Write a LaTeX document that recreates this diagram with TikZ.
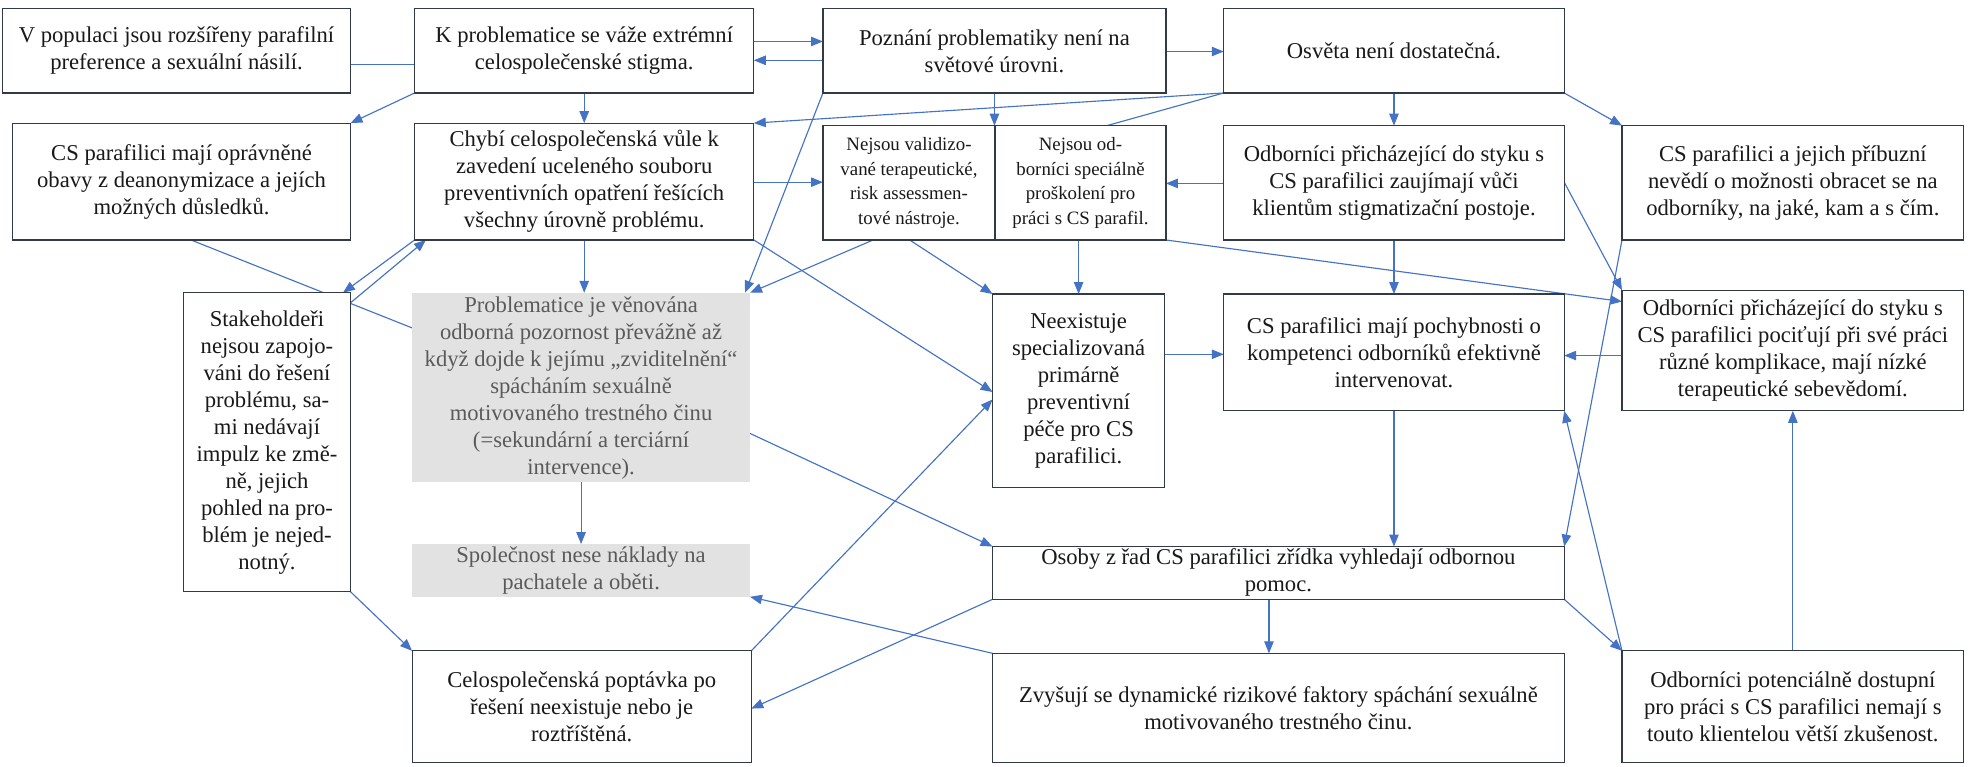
\documentclass[tikz,border=0pt]{standalone}
\usepackage{fontspec}
\setmainfont{Liberation Serif}
\usetikzlibrary{arrows.meta}
\definecolor{conn}{HTML}{4472C4}
\definecolor{boxline}{RGB}{50,58,70}
\definecolor{textc}{RGB}{25,25,25}
\definecolor{grayfill}{RGB}{226,226,226}
\definecolor{graytext}{RGB}{90,90,90}
\pgfdeclarelayer{bg}
\pgfsetlayers{bg,main}
\begin{document}
\begin{tikzpicture}[x=1pt,y=-1pt,
  box/.style={draw=boxline, line width=0.9pt, fill=white, inner sep=2pt, outer sep=0pt,
    align=center, text=textc, font=\fontsize{18}{21.5}\selectfont},
  gbox/.style={fill=grayfill, inner sep=2pt, outer sep=0pt, align=center, text=graytext,
    font=\fontsize{18}{21.5}\selectfont},
  smalltext/.style={font=\fontsize{15}{19.5}\selectfont},
  arr/.style={draw=conn, line width=0.9pt, -{Triangle[length=9.5pt,width=7.5pt]}},
  ln/.style={draw=conn, line width=0.9pt}]
\useasboundingbox (0,0) rectangle (1568,610);

% row 1
\node[box, minimum width=277pt, minimum height=67pt] (A) at (140.5,40.5)
  {V populaci jsou rozšířeny parafilní\\preference a sexuální násilí.};
\node[box, minimum width=270pt, minimum height=67pt] (B) at (465,40.5)
  {K problematice se váže extrémní\\celospolečenské stigma.};
\node[box, minimum width=273pt, minimum height=67pt] (E) at (791.5,40.5)
  {Poznání problematiky není na\\světové úrovni.};
\node[box, minimum width=271pt, minimum height=67pt] (F) at (1109.5,40.5)
  {Osvěta není dostatečná.};

% row 2
\node[box, minimum width=269pt, minimum height=93pt] (C) at (144.5,144.5)
  {CS parafilici mají oprávněné\\obavy z deanonymizace a jejích\\možných důsledků.};
\node[box, minimum width=270pt, minimum height=93pt] (D) at (465,144.5)
  {Chybí celospolečenská vůle k\\zavedení uceleného souboru\\preventivních opatření řešících\\všechny úrovně problému.};
\node[box, smalltext, minimum width=137pt, minimum height=91pt] (G1) at (723.5,145.5)
  {Nejsou validizo-\\vané terapeutické,\\risk assessmen-\\tové nástroje.};
\node[box, smalltext, minimum width=136pt, minimum height=91pt] (G2) at (860,145.5)
  {Nejsou od-\\borníci speciálně\\proškolení pro\\práci s CS parafil.};
\node[box, minimum width=271pt, minimum height=91pt] (H) at (1109.5,145.5)
  {Odborníci přicházející do styku s\\CS parafilici zaujímají vůči\\klientům stigmatizační postoje.};
\node[box, minimum width=272pt, minimum height=91pt] (I) at (1427,145.5)
  {CS parafilici a jejich příbuzní\\nevědí o možnosti obracet se na\\odborníky, na jaké, kam a s čím.};

% row 3
\node[box, minimum width=133pt, minimum height=238pt] (S) at (212.5,352)
  {Stakeholdeři\\nejsou zapojo-\\váni do řešení\\problému, sa-\\mi nedávají\\impulz ke změ-\\ně, jejich\\pohled na pro-\\blém je nejed-\\notný.};
\node[gbox, minimum width=269pt, minimum height=151pt] (P) at (462.5,308.5)
  {Problematice je věnována\\odborná pozornost převážně až\\když dojde k jejímu „zviditelnění“\\spácháním sexuálně\\motivovaného trestného činu\\(=sekundární a terciární\\intervence).};
\node[box, minimum width=137pt, minimum height=154pt] (N) at (858.5,311)
  {Neexistuje\\specializovaná\\primárně\\preventivní\\péče pro CS\\parafilici.};
\node[box, minimum width=271pt, minimum height=93pt] (K) at (1109.5,280.5)
  {CS parafilici mají pochybnosti o\\kompetenci odborníků efektivně\\intervenovat.};
\node[box, minimum width=272pt, minimum height=96pt] (L) at (1427,279)
  {Odborníci přicházející do styku s\\CS parafilici pociťují při své práci\\různé komplikace, mají nízké\\terapeutické sebevědomí.};

% row 4
\node[gbox, minimum width=269pt, minimum height=42pt] (Q) at (462.5,454)
  {Společnost nese náklady na\\pachatele a oběti.};
\node[box, minimum width=455pt, minimum height=42pt] (O) at (1017.5,456)
  {Osoby z řad CS parafilici zřídka vyhledají odbornou\\pomoc.};

% row 5
\node[box, minimum width=270pt, minimum height=89pt] (R) at (463,562.5)
  {Celospolečenská poptávka po\\řešení neexistuje nebo je\\roztříštěná.};
\node[box, minimum width=455pt, minimum height=87pt] (Z) at (1017.5,563.5)
  {Zvyšují se dynamické rizikové faktory spáchání sexuálně\\motivovaného trestného činu.};
\node[box, minimum width=272pt, minimum height=89pt] (T) at (1427,562.5)
  {Odborníci potenciálně dostupní\\pro práci s CS parafilici nemají s\\touto klientelou větší zkušenost.};

\begin{pgfonlayer}{bg}
\fill[white] (0,0) rectangle (1568,610);
\draw[ln]  (A.east |- 0,51) -- (B.west |- 0,51);
\draw[arr] (B.east |- 0,33) -- (E.west |- 0,33);
\draw[arr] (E.west |- 0,48) -- (B.east |- 0,48);
\draw[arr] (E.east |- 0,41) -- (F.west |- 0,41);
\draw[arr] (B.south) -- (B.south |- D.north);
\draw[arr] (B.south west) -- (C.north east);
\draw[arr] (E.south) -- (E.south |- G1.north);
\draw[arr] (F.south west) -- (D.north east);
\draw[ln]  (F.south west) -- (G2.north -| 881,0);
\draw[arr] (F.south) -- (F.south |- H.north);
\draw[arr] (F.south east) -- (I.north west);
\draw[ln]  (C.south -| 152,0) -- (P.west |- 0,261);
\draw[arr] (D.south west) -- (S.north -| 273,0);
\draw[arr] (S.east |- 0,241) -- (D.south -| 339,0);
\draw[arr] (D.south) -- (D.south |- P.north);
\draw[arr] (D.east |- 0,145) -- (G1.west |- 0,145);
\draw[arr] (H.west |- 0,146) -- (G2.east |- 0,146);
\draw[arr] (D.south east) -- (N.west |- 0,312);
\draw[arr] (R.north east) -- (N.west |- 0,318);
\draw[arr] (E.south west) -- (P.north -| 593,0);
\draw[arr] (G1.south -| 695,0) -- (P.north east);
\draw[arr] (G1.south -| 724,0) -- (N.north west);
\draw[arr] (N.north |- G2.south) -- (N.north);
\draw[arr] (G2.south east) -- (L.west |- 0,240);
\draw[arr] (H.east |- 0,145) -- (L.north west);
\draw[arr] (H.south) -- (K.north);
\draw[arr] (I.south west) -- (O.north east);
\draw[arr] (K.south) -- (K.south |- O.north);
\draw[arr] (N.east |- 0,282) -- (K.west |- 0,282);
\draw[arr] (L.west |- 0,283) -- (K.east |- 0,283);
\draw[arr] (T.north) -- (L.south);
\draw[arr] (T.north west) -- (K.south east);
\draw[arr] (O.south east) -- (T.north west);
\draw[arr] (O.south -| 1010,0) -- (Z.north -| 1010,0);
\draw[arr] (O.south west) -- (R.east |- 0,564);
\draw[arr] (P.east |- 0,345) -- (O.north west);
\draw[arr] (P.south) -- (Q.north);
\draw[arr] (Z.north west) -- (Q.south east);
\draw[arr] (S.south east) -- (R.north west);
\end{pgfonlayer}
\end{tikzpicture}
\end{document}
